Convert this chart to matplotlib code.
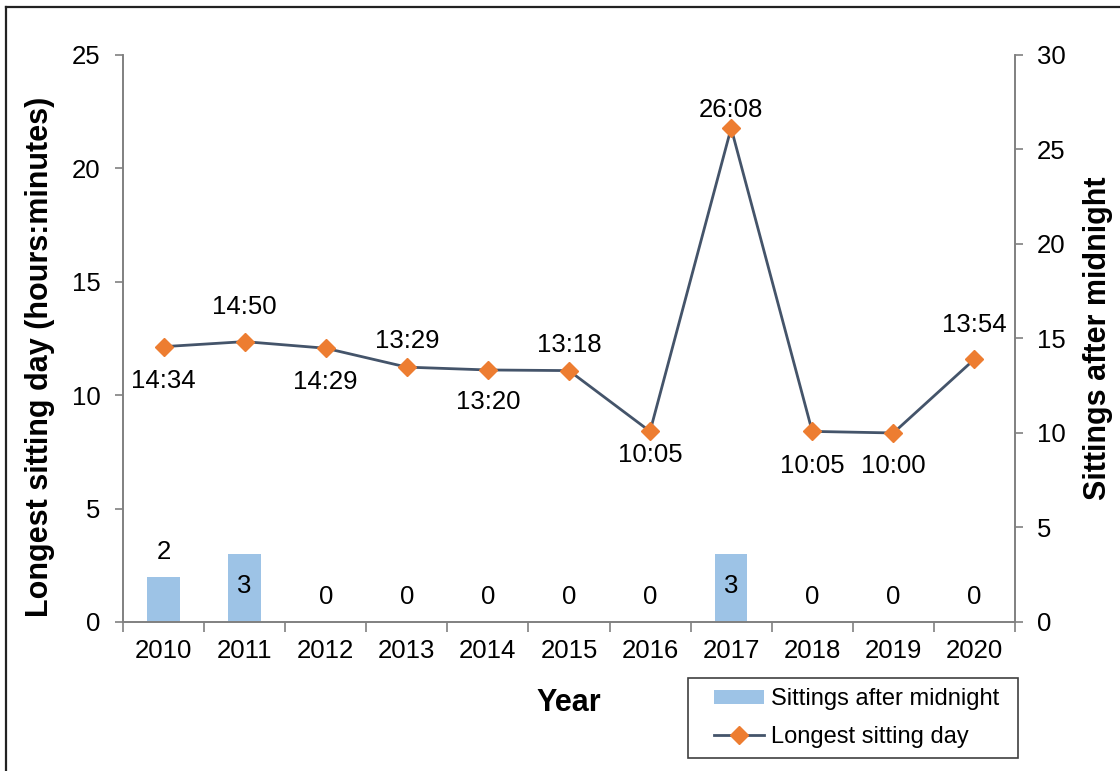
import numpy as np
import matplotlib.pyplot as plt
from matplotlib.lines import Line2D
from matplotlib.patches import Rectangle

plt.rcParams['font.family'] = ['Liberation Sans', 'DejaVu Sans']

years = ['2010', '2011', '2012', '2013', '2014', '2015', '2016', '2017', '2018', '2019', '2020']
sittings_after_midnight = [2, 3, 0, 0, 0, 0, 0, 3, 0, 0, 0]
longest_labels = ['14:34', '14:50', '14:29', '13:29', '13:20', '13:18', '10:05', '26:08', '10:05', '10:00', '13:54']

# label offsets in points (style only), positive = above the marker
label_offsets = [-25, 25, -24, 19, -23, 18.5, -17, 13, -25, -24, 25]


def to_hours(s):
    h, m = s.split(':')
    return int(h) + int(m) / 60.0


longest_hours = [to_hours(s) for s in longest_labels]

bar_color = '#9DC3E6'
line_color = '#44546A'
marker_color = '#ED7D31'
spine_color = '#808080'
fs = 18.5

fig = plt.figure(figsize=(11.2, 7.71), dpi=100)
ax = fig.add_axes([0.1098, 0.1933, 0.7964, 0.7354])
ax2 = ax.twinx()

x = np.arange(len(years))
bars = ax.bar(x, sittings_after_midnight, width=0.4, color=bar_color, zorder=2,
              label='Sittings after midnight')
for xi, v in zip(x, sittings_after_midnight):
    dy = -23 if v >= 3 else 18
    ax.annotate(str(v), (xi, v), xytext=(0, dy), textcoords='offset points',
                ha='center', va='center', fontsize=fs)

line, = ax2.plot(x, longest_hours, color=line_color, linewidth=2.0, marker='D',
                 markersize=9, markerfacecolor=marker_color, markeredgecolor=marker_color,
                 zorder=3, label='Longest sitting day')
for xi, v, lab, dy in zip(x, longest_hours, longest_labels, label_offsets):
    ax2.annotate(lab, (xi, v), xytext=(0, dy), textcoords='offset points',
                 ha='center', va='center', fontsize=fs)

ax.set_xlim(-0.5, len(years) - 0.5)
ax.set_ylim(0, 25)
ax2.set_ylim(0, 30)
ax.set_yticks(np.arange(0, 26, 5))
ax2.set_yticks(np.arange(0, 31, 5))
ax.set_xticks(x)
ax.set_xticklabels(years)
ax.set_xticks(np.arange(-0.5, len(years), 1), minor=True)
ax.tick_params(axis='x', which='major', length=0, labelsize=fs, pad=12)
ax.tick_params(axis='x', which='minor', length=7, color=spine_color, width=1.2)
ax.tick_params(axis='y', length=6, color=spine_color, labelsize=fs, pad=10, width=1.2)
ax2.tick_params(axis='y', length=6, color=spine_color, labelsize=fs, pad=10, width=1.2)

for a in (ax, ax2):
    a.spines['top'].set_visible(False)
    for s in ('left', 'right', 'bottom'):
        a.spines[s].set_color(spine_color)
        a.spines[s].set_linewidth(1.2)

ax.set_ylabel('Longest sitting day (hours:minutes)', fontsize=22, fontweight='bold',
              va='center')
ax.yaxis.set_label_coords(-0.093, 0.467)
ax2.set_ylabel('Sittings after midnight', fontsize=22, fontweight='bold', labelpad=12)
ax.set_xlabel('Year', fontsize=22, fontweight='bold', labelpad=18)

# legend box drawn separately so the padding can match the original
fig.add_artist(Rectangle((688 / 1120, 1 - 758 / 771), 330 / 1120, 80 / 771,
                         transform=fig.transFigure, facecolor='white',
                         edgecolor='#404040', linewidth=1.2, zorder=4))
leg = fig.legend([bars, line], ['Sittings after midnight', 'Longest sitting day'],
                 loc='center left', bbox_to_anchor=(714 / 1120, 1 - 718 / 771),
                 fontsize=17, frameon=False, borderaxespad=0, borderpad=0,
                 handlelength=2.1, handleheight=0.5, handletextpad=0.3,
                 labelspacing=0.65)
leg.set_zorder(5)

# outer frame of the original figure box
fig.add_artist(Line2D([6 / 1120, 6 / 1120], [0, 1 - 7 / 771], transform=fig.transFigure,
                      color='#222222', linewidth=1.6))
fig.add_artist(Line2D([6 / 1120, 1], [1 - 7 / 771, 1 - 7 / 771], transform=fig.transFigure,
                      color='#222222', linewidth=1.6))

fig.savefig('out.png', dpi=100)
